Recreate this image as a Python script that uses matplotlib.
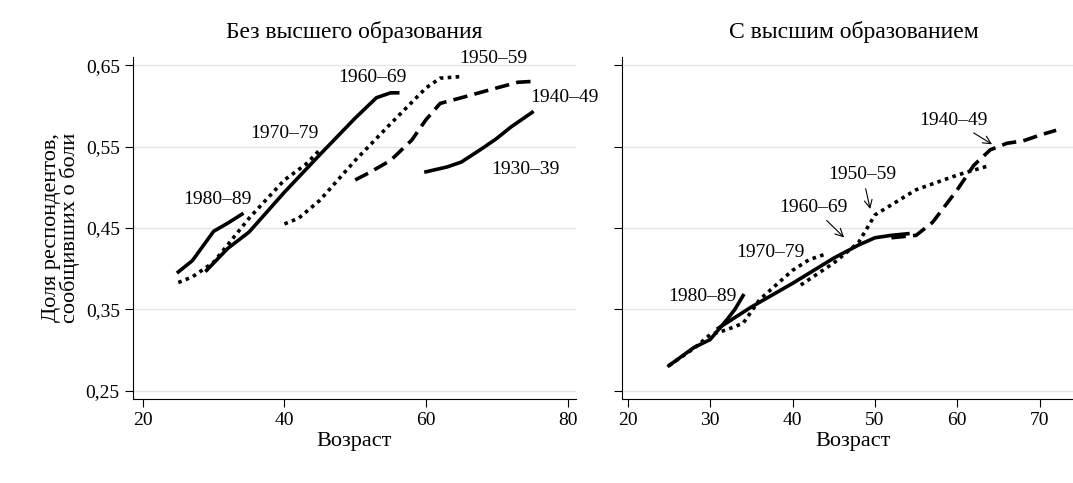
import numpy as np
import matplotlib.pyplot as plt

plt.rcParams['font.family'] = 'Liberation Serif'

# left panel: no higher education
l_8089_x = [25, 27, 30, 32, 34]
l_8089_y = [0.396, 0.410, 0.446, 0.456, 0.467]
l_7079_x = [25, 27, 30, 35, 40, 43, 45]
l_7079_y = [0.383, 0.390, 0.408, 0.462, 0.509, 0.528, 0.546]
l_6069_x = [29, 32, 35, 40, 45, 50, 53, 55, 56]
l_6069_y = [0.398, 0.425, 0.445, 0.494, 0.540, 0.585, 0.610, 0.616, 0.616]
l_5059_x = [40, 42, 45, 50, 55, 60, 62, 65]
l_5059_y = [0.455, 0.462, 0.484, 0.533, 0.578, 0.622, 0.634, 0.636]
l_4049_x = [50, 52, 55, 58, 60, 62, 65, 70, 73, 75]
l_4049_y = [0.509, 0.518, 0.533, 0.558, 0.583, 0.603, 0.610, 0.622, 0.629, 0.630]
l_3039_x = [60, 63, 65, 68, 70, 72, 75]
l_3039_y = [0.519, 0.525, 0.531, 0.548, 0.560, 0.574, 0.592]

# right panel: higher education
r_8089_x = [25, 28, 30, 31, 32, 33, 34]
r_8089_y = [0.281, 0.303, 0.313, 0.325, 0.337, 0.350, 0.367]
r_7079_x = [25, 28, 30, 32, 34, 36, 38, 40, 42, 44]
r_7079_y = [0.281, 0.302, 0.319, 0.325, 0.333, 0.362, 0.380, 0.398, 0.411, 0.418]
r_6069_x = [31, 35, 40, 45, 48, 50, 52, 54]
r_6069_y = [0.327, 0.353, 0.382, 0.413, 0.429, 0.438, 0.441, 0.443]
r_5059_x = [41, 45, 48, 50, 55, 60, 64]
r_5059_y = [0.380, 0.407, 0.432, 0.466, 0.497, 0.515, 0.527]
r_4049_x = [52, 55, 57, 60, 62, 64, 66, 68, 70, 72]
r_4049_y = [0.438, 0.441, 0.457, 0.497, 0.527, 0.546, 0.554, 0.557, 0.564, 0.570]

yticks = [0.25, 0.35, 0.45, 0.55, 0.65]
ytick_labels = ['0,25', '0,35', '0,45', '0,55', '0,65']

solid = '-'
dotted = (0, (1, 1.2))
dashed = (0, (4, 2))

fig = plt.figure(figsize=(10.73, 4.83), dpi=100)
ax1 = fig.add_axes([133 / 1073, 1 - 399 / 483, 443 / 1073, 342 / 483])
ax2 = fig.add_axes([622 / 1073, 1 - 399 / 483, 463 / 1073, 342 / 483])

for ax in (ax1, ax2):
    ax.set_ylim(0.24, 0.66)
    ax.set_yticks(yticks)
    ax.set_yticklabels(ytick_labels if ax is ax1 else [])
    ax.grid(axis='y', color='#e6e6e6', lw=1)
    ax.set_axisbelow(True)
    for s in ('top', 'right'):
        ax.spines[s].set_visible(False)
    ax.tick_params(labelsize=14, direction='out', length=6)
    ax.set_xlabel('Возраст', fontsize=16, labelpad=2)

lw = 2.6
ax1.plot(l_8089_x, l_8089_y, color='black', lw=lw, ls=solid)
ax1.plot(l_7079_x, l_7079_y, color='black', lw=lw, ls=dotted)
ax1.plot(l_6069_x, l_6069_y, color='black', lw=lw, ls=solid)
ax1.plot(l_5059_x, l_5059_y, color='black', lw=lw, ls=dotted)
ax1.plot(l_4049_x, l_4049_y, color='black', lw=lw, ls=dashed)
ax1.plot(l_3039_x, l_3039_y, color='black', lw=lw, ls=solid)
ax1.set_xlim(18.6, 81.2)
ax1.set_xticks([20, 40, 60, 80])
ax1.set_title('Без высшего образования', fontsize=17, pad=14)
ax1.set_ylabel('Доля респондентов,\nсообщивших о боли', fontsize=16, linespacing=0.9)

fs = 14
ax1.text(30.5, 0.475, '1980–89', fontsize=fs, ha='center', va='bottom')
ax1.text(40, 0.555, '1970–79', fontsize=fs, ha='center', va='bottom')
ax1.text(52.5, 0.625, '1960–69', fontsize=fs, ha='center', va='bottom')
ax1.text(69.5, 0.648, '1950–59', fontsize=fs, ha='center', va='bottom')
ax1.text(79.5, 0.600, '1940–49', fontsize=fs, ha='center', va='bottom')
ax1.text(74, 0.522, '1930–39', fontsize=fs, ha='center', va='center')

ax2.plot(r_8089_x, r_8089_y, color='black', lw=lw, ls=solid)
ax2.plot(r_7079_x, r_7079_y, color='black', lw=lw, ls=dotted)
ax2.plot(r_6069_x, r_6069_y, color='black', lw=lw, ls=solid)
ax2.plot(r_5059_x, r_5059_y, color='black', lw=lw, ls=dotted)
ax2.plot(r_4049_x, r_4049_y, color='black', lw=lw, ls=dashed)
ax2.set_xlim(19.3, 75.5)
ax2.set_xticks([20, 30, 40, 50, 60, 70])
ax2.set_title('С высшим образованием', fontsize=17, pad=14)

ax2.text(29, 0.355, '1980–89', fontsize=fs, ha='center', va='bottom')
ax2.text(37.3, 0.410, '1970–79', fontsize=fs, ha='center', va='bottom')
ax2.annotate('1960–69', xy=(46.5, 0.436), xytext=(42.5, 0.465), fontsize=fs, ha='center',
             va='bottom', arrowprops=dict(arrowstyle='->', color='black', lw=0.8))
ax2.annotate('1950–59', xy=(49.5, 0.470), xytext=(48.5, 0.505), fontsize=fs, ha='center',
             va='bottom', arrowprops=dict(arrowstyle='->', color='black', lw=0.8))
ax2.annotate('1940–49', xy=(64.5, 0.551), xytext=(59.5, 0.572), fontsize=fs, ha='center',
             va='bottom', arrowprops=dict(arrowstyle='->', color='black', lw=0.8))

fig.savefig('out.png', dpi=100, facecolor='white')
